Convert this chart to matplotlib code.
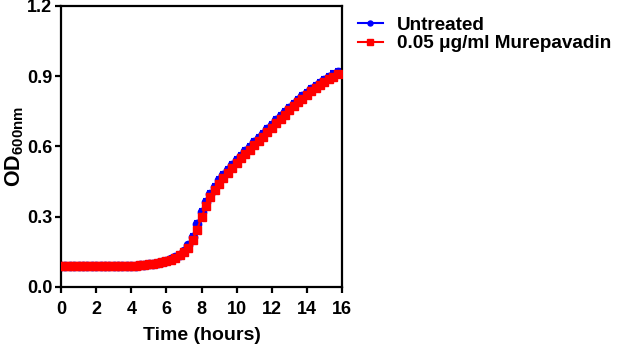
import numpy as np
import matplotlib
matplotlib.use('Agg')
import matplotlib.pyplot as plt

# Zaman noktaları (15 dakikada bir ölçüm)
zaman = np.arange(64) * 0.25

# Untreated (mavi)
untreated = [0.088, 0.088, 0.088, 0.088, 0.088, 0.088, 0.088, 0.088, 0.088, 0.088,
             0.088, 0.088, 0.089, 0.089, 0.089, 0.090, 0.090, 0.091, 0.092, 0.094,
             0.096, 0.099, 0.102, 0.107, 0.112, 0.119, 0.127, 0.138, 0.152, 0.178,
             0.215, 0.268, 0.318, 0.362, 0.398, 0.428, 0.455, 0.479, 0.500, 0.520,
             0.540, 0.560, 0.579, 0.598, 0.617, 0.636, 0.655, 0.674, 0.693, 0.712,
             0.730, 0.748, 0.766, 0.783, 0.799, 0.815, 0.830, 0.845, 0.858, 0.871,
             0.884, 0.896, 0.907, 0.918]
untreated_sd = [0.002] * 26 + [0.004, 0.005, 0.007, 0.009, 0.011, 0.013, 0.013, 0.013,
                               0.013, 0.013, 0.013, 0.013, 0.013, 0.013, 0.013, 0.013,
                               0.013, 0.013, 0.013, 0.013, 0.013, 0.013, 0.013, 0.013,
                               0.013, 0.013, 0.013, 0.013, 0.013, 0.013, 0.013, 0.013,
                               0.013, 0.013, 0.013, 0.013, 0.013, 0.013]

# 0.05 ug/ml Murepavadin (kırmızı)
murepavadin = [0.088, 0.088, 0.088, 0.088, 0.088, 0.088, 0.088, 0.088, 0.088, 0.088,
               0.088, 0.088, 0.089, 0.089, 0.089, 0.090, 0.090, 0.091, 0.092, 0.094,
               0.096, 0.099, 0.102, 0.106, 0.111, 0.117, 0.125, 0.135, 0.148, 0.168,
               0.200, 0.245, 0.298, 0.345, 0.383, 0.413, 0.440, 0.465, 0.487, 0.508,
               0.530, 0.550, 0.567, 0.586, 0.605, 0.624, 0.642, 0.661, 0.680, 0.699,
               0.717, 0.736, 0.755, 0.772, 0.788, 0.804, 0.820, 0.835, 0.849, 0.862,
               0.874, 0.886, 0.897, 0.908]
murepavadin_sd = [0.002] * 64

plt.rcParams['font.family'] = ['Liberation Sans', 'DejaVu Sans']
plt.rcParams['font.weight'] = 'bold'
plt.rcParams['mathtext.fontset'] = 'custom'
plt.rcParams['mathtext.bf'] = 'Liberation Sans:bold'
plt.rcParams['mathtext.rm'] = 'Liberation Sans:bold'

fig = plt.figure(figsize=(6.17, 3.47), dpi=100)
ax = fig.add_axes([0.0989, 0.173, 0.4554, 0.810])

eb1 = ax.errorbar(zaman, untreated, yerr=untreated_sd, color='#0000ff', marker='o',
                  markersize=6, linewidth=1.5, capsize=2.5, elinewidth=1.5,
                  capthick=1.5, zorder=2)
eb2 = ax.errorbar(zaman, murepavadin, yerr=murepavadin_sd, color='#ff0000', marker='s',
                  markersize=6.3, linewidth=1.5, capsize=2.5, elinewidth=1.5,
                  capthick=1.5, zorder=3)

ax.set_xlim(0, 16)
ax.set_ylim(0, 1.2)
ax.set_xticks(np.arange(0, 17, 2))
ax.set_yticks([0.0, 0.3, 0.6, 0.9, 1.2])
ax.set_yticklabels(['0.0', '0.3', '0.6', '0.9', '1.2'])

for s in ax.spines.values():
    s.set_linewidth(1.6)
ax.tick_params(direction='out', length=4.3, width=1.6, labelsize=13)
ax.tick_params(axis='x', pad=6)
ax.tick_params(axis='y', pad=2)

ax.set_xlabel('Time (hours)', fontsize=14, fontweight='bold', labelpad=6)
ax.set_ylabel(r'$\mathbf{OD_{600nm}}$', fontsize=15.5, labelpad=1)

ax.legend([eb1[0], eb2[0]], ['Untreated', '0.05 \u03bcg/ml Murepavadin'],
          loc='upper left', bbox_to_anchor=(1.057, 0.962), frameon=False,
          fontsize=13.6, handlelength=1.3, handletextpad=0.75, labelspacing=0.06,
          borderaxespad=0, borderpad=0, markerscale=0.6)

fig.savefig('out.png', dpi=100)
